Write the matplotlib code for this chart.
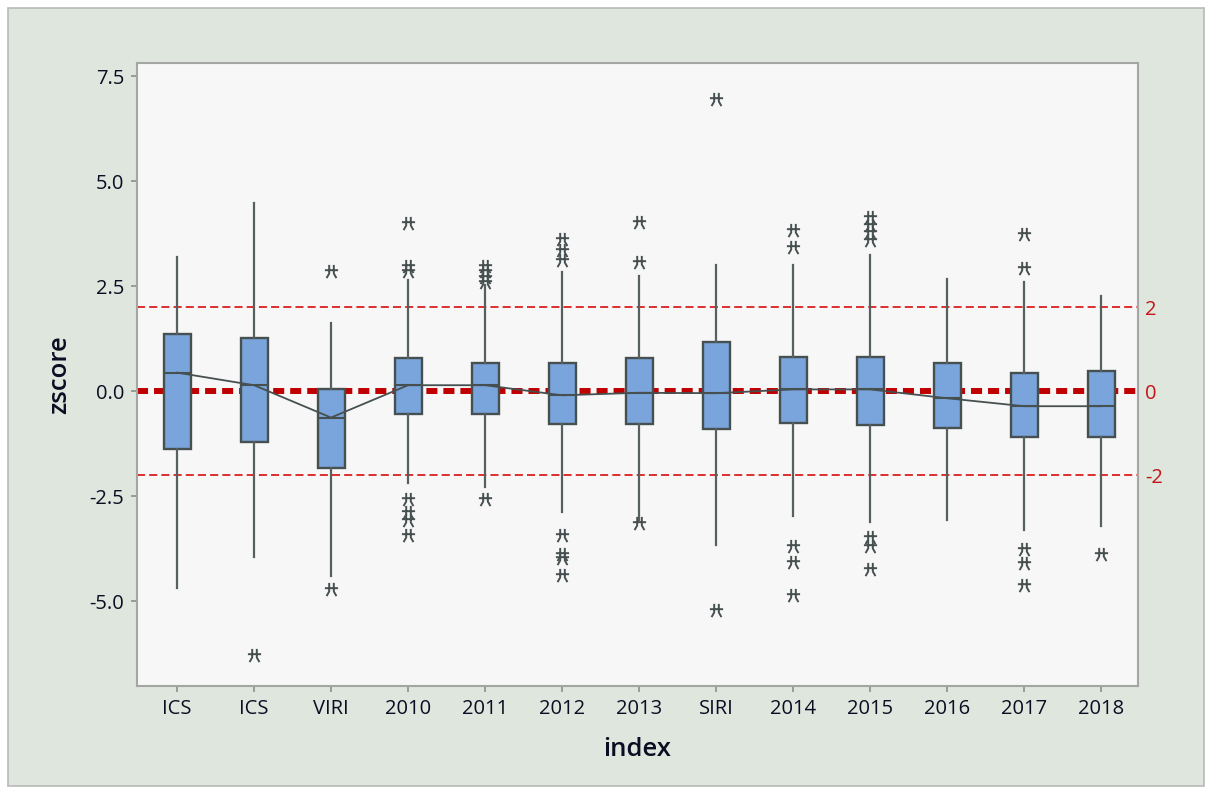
import matplotlib
matplotlib.use("Agg")
import matplotlib.pyplot as plt
from matplotlib.patches import Rectangle
from matplotlib.path import Path
from matplotlib.ticker import FormatStrFormatter
import numpy as np

# ---- data -------------------------------------------------------------
labels = ['ICS', 'ICS', 'VIRI', '2010', '2011', '2012', '2013',
          'SIRI', '2014', '2015', '2016', '2017', '2018']
q1 = [-1.39, -1.20, -1.83, -0.55, -0.55, -0.79, -0.79,
      -0.90, -0.75, -0.81, -0.89, -1.10, -1.10]
medians = [0.44, 0.14, -0.63, 0.14, 0.14, -0.10, -0.04,
           -0.05, 0.04, 0.04, -0.17, -0.36, -0.36]
q3 = [1.37, 1.27, 0.04, 0.78, 0.67, 0.67, 0.78,
      1.16, 0.82, 0.82, 0.67, 0.42, 0.48]
whisker_high = [3.20, 4.47, 1.63, 2.64, 2.52, 2.84, 2.74,
                2.99, 2.99, 3.25, 2.66, 2.60, 2.26]
whisker_low = [-4.68, -3.96, -4.40, -2.18, -2.28, -2.87, -3.07,
               -3.66, -2.98, -3.11, -3.07, -3.31, -3.21]
outliers = [
    [],
    [-6.29],
    [2.86, -4.70],
    [3.99, 2.97, 2.85, -2.56, -2.87, -3.07, -3.43],
    [2.97, 2.85, 2.72, 2.60, -2.56],
    [3.63, 3.36, 3.12, -3.43, -3.88, -3.98, -4.38],
    [4.03, 3.08, -3.15],
    [6.95, -5.20],
    [3.84, 3.42, -3.68, -4.07, -4.85],
    [4.15, 3.95, 3.78, 3.60, -3.47, -3.68, -4.24],
    [],
    [3.75, 2.94, -3.75, -4.10, -4.62],
    [-3.87],
]
ref_center = 0
ref_bounds = [2, -2]

# ---- style --------------------------------------------------------------
plt.rcParams['font.family'] = ['Open Sans', 'DejaVu Sans']
plt.rcParams['axes.unicode_minus'] = False

TEXT = '#0c0c22'
EDGE = '#465050'

# asterisk-like glyph used for outliers
hash_marker = Path(
    [(-0.35, 1.0), (-0.35, -0.3), (-0.75, -1.0),
     (0.35, 1.0), (0.35, -0.3), (0.75, -1.0),
     (-1.0, 0.2), (1.0, 0.2)],
    [Path.MOVETO, Path.LINETO, Path.LINETO,
     Path.MOVETO, Path.LINETO, Path.LINETO,
     Path.MOVETO, Path.LINETO])

W, H = 1209, 794
fig = plt.figure(figsize=(W / 100, H / 100), dpi=100, facecolor='white')
fig.patches.append(Rectangle((8 / W, 8 / H), (1204 - 8) / W, (786 - 8) / H,
                             transform=fig.transFigure, facecolor='#dfe6de',
                             edgecolor='#b7bab7', lw=1.2, zorder=-5))

ax = fig.add_axes([137 / W, 1 - 686 / H, (1138 - 137) / W, (686 - 63) / H])
ax.set_facecolor('#f7f7f7')

positions = np.arange(1, len(labels) + 1)
stats = [dict(label=lab, q1=a, med=m, q3=b, whislo=lo, whishi=hi, fliers=f)
         for lab, a, m, b, lo, hi, f in zip(labels, q1, medians, q3,
                                             whisker_low, whisker_high, outliers)]

# reference lines
ax.axhline(ref_center, color='#c00000', lw=4.3, dashes=(1.85, 1.0), zorder=1)
for v in ref_bounds:
    ax.axhline(v, color='#dc2626', lw=1.35, dashes=(4.3, 2.2), zorder=1)

ax.bxp(stats, positions=positions, widths=0.35, patch_artist=True,
       showcaps=False,
       boxprops=dict(facecolor='#7aa4dc', edgecolor=EDGE, linewidth=1.7),
       whiskerprops=dict(color='#566060', linewidth=1.6),
       medianprops=dict(color=EDGE, linewidth=1.5),
       flierprops=dict(marker=hash_marker, markersize=9.5,
                       markeredgecolor='#465050', markerfacecolor='none',
                       markeredgewidth=1.4, linestyle='none'),
       zorder=3)

# median connect line
ax.plot(positions, medians, color=EDGE, lw=1.3, zorder=4)

ax.set_xlim(0.48, 13.48)
ax.set_ylim(-7.02, 7.81)
ax.set_xticks(positions, labels)
ax.set_yticks([-5.0, -2.5, 0.0, 2.5, 5.0, 7.5])
ax.yaxis.set_major_formatter(FormatStrFormatter('%.1f'))

for s in ax.spines.values():
    s.set_color('#a3a6a3')
    s.set_linewidth(1.5)
ax.tick_params(axis='both', length=4, width=1.2, color='#8c908c',
               labelsize=14.5, labelcolor=TEXT, pad=5)

ax.set_xlabel('index', fontsize=18.5, color=TEXT, fontweight='semibold')
ax.xaxis.set_label_coords(0.5, -0.082)
ax.set_ylabel('zscore', fontsize=18.5, color=TEXT, fontweight='semibold')
ax.yaxis.set_label_coords(-0.065, 0.5)

# secondary scale marking the reference lines
ax2 = ax.twinx()
ax2.set_ylim(ax.get_ylim())
ax2.set_yticks([ref_bounds[1], ref_center, ref_bounds[0]],
               [str(ref_bounds[1]), str(ref_center), str(ref_bounds[0])])
ax2.tick_params(axis='y', length=0, pad=5, labelsize=14.5, labelcolor='#c41414')
for s in ax2.spines.values():
    s.set_visible(False)

fig.savefig('out.png', dpi=100, facecolor='white')
